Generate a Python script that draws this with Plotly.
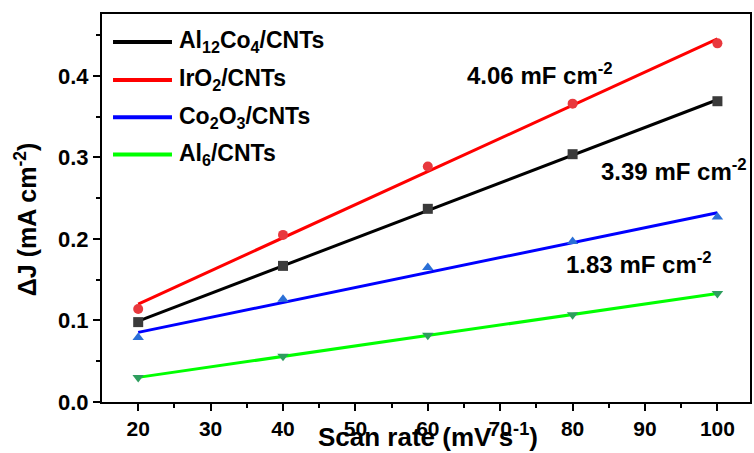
import numpy as np
import plotly.graph_objects as go

scan_rate = [20, 40, 60, 80, 100]
names = ["Al<sub>12</sub>Co<sub>4</sub>/CNTs", "IrO<sub>2</sub>/CNTs",
         "Co<sub>2</sub>O<sub>3</sub>/CNTs", "Al<sub>6</sub>/CNTs"]
al12co4 = [0.098, 0.167, 0.237, 0.304, 0.369]
iro2 = [0.114, 0.205, 0.289, 0.366, 0.440]
co2o3 = [0.079, 0.126, 0.165, 0.197, 0.227]
al6 = [0.030, 0.056, 0.082, 0.107, 0.133]
series = [al12co4, iro2, co2o3, al6]
line_colors = ["#000000", "#FF0000", "#0000FF", "#00FF00"]
marker_colors = ["#3a3a3a", "#E8383D", "#2A6FD6", "#2E9E5E"]
symbols = ["square", "circle", "triangle-up", "triangle-down"]
cap_labels = ["4.06 mF cm<sup>-2</sup>", "3.39 mF cm<sup>-2</sup>", "1.83 mF cm<sup>-2</sup>"]
cap_x = [75.5, 94.0, 89.1]
cap_y = [0.403, 0.285, 0.170]
x_title = "Scan rate (mV s<sup>-1</sup>)"
y_title = "ΔJ (mA cm<sup>-2</sup>)"

FONT = "Liberation Sans, Arial, sans-serif"
fig = go.Figure()
x = np.array(scan_rate, dtype=float)
for i, (nm, ys) in enumerate(zip(names, series)):
    k, b = np.polyfit(x, np.array(ys), 1)
    fig.add_trace(go.Scatter(x=scan_rate, y=list(k * x + b), mode="lines", name=nm,
                             line=dict(color=line_colors[i], width=3), showlegend=False))
for i, (nm, ys) in enumerate(zip(names, series)):
    fig.add_trace(go.Scatter(x=scan_rate, y=ys, mode="markers", showlegend=False, name=nm,
                             marker=dict(symbol=symbols[i], color=marker_colors[i], size=10,
                                         line=dict(width=0))))

# legend (drawn in paper coordinates)
leg_y = [0.928, 0.830, 0.734, 0.638]
for i, nm in enumerate(names):
    fig.add_shape(type="line", xref="paper", yref="paper", x0=0.017, x1=0.108,
                  y0=leg_y[i], y1=leg_y[i], line=dict(color=line_colors[i], width=4))
    fig.add_annotation(xref="paper", yref="paper", x=0.116, y=leg_y[i], text=f"<b>{nm}</b>",
                       showarrow=False, xanchor="left", yanchor="middle",
                       font=dict(family=FONT, size=23, color="black"))

for t, ax, ay in zip(cap_labels, cap_x, cap_y):
    fig.add_annotation(x=ax, y=ay, text=f"<b>{t}</b>", showarrow=False,
                       font=dict(family=FONT, size=24, color="black"),
                       xanchor="center", yanchor="middle")

# axis titles
fig.add_annotation(xref="paper", yref="paper", x=0.503, y=-0.086, text=f"<b>{x_title}</b>",
                   showarrow=False, xanchor="center", yanchor="middle",
                   font=dict(family=FONT, size=26, color="black"))
fig.add_annotation(xref="paper", yref="paper", x=-0.118, y=0.47, text=f"<b>{y_title}</b>",
                   showarrow=False, xanchor="center", yanchor="middle", textangle=-90,
                   font=dict(family=FONT, size=25, color="black"))

axis_common = dict(showline=True, linecolor="black", linewidth=2, mirror=True,
                   ticks="outside", ticklen=7, tickwidth=2, tickcolor="black",
                   showgrid=False, zeroline=False, automargin=False)
fig.update_xaxes(range=[15, 104.5], tickmode="array", tickvals=[20, 30, 40, 50, 60, 70, 80, 90, 100],
                 minor=dict(ticks="outside", ticklen=4, tickwidth=2, tickcolor="black",
                            tickvals=[25, 35, 45, 55, 65, 75, 85, 95]),
                 tickfont=dict(family=FONT, size=21, color="black", weight="bold"),
                 **axis_common)
fig.update_yaxes(range=[0, 0.476], tickmode="array", tickvals=[0.0, 0.1, 0.2, 0.3, 0.4],
                 ticktext=["0.0", "0.1", "0.2", "0.3", "0.4"],
                 minor=dict(ticks="outside", ticklen=4, tickwidth=2, tickcolor="black",
                            tickvals=[0.05, 0.15, 0.25, 0.35, 0.45]),
                 tickfont=dict(family=FONT, size=22, color="black", weight="bold"),
                 **axis_common)
fig.update_layout(width=754, height=453, margin=dict(l=102, r=4, t=14, b=51),
                  paper_bgcolor="white", plot_bgcolor="white", showlegend=False)
fig.write_html("out.html")
